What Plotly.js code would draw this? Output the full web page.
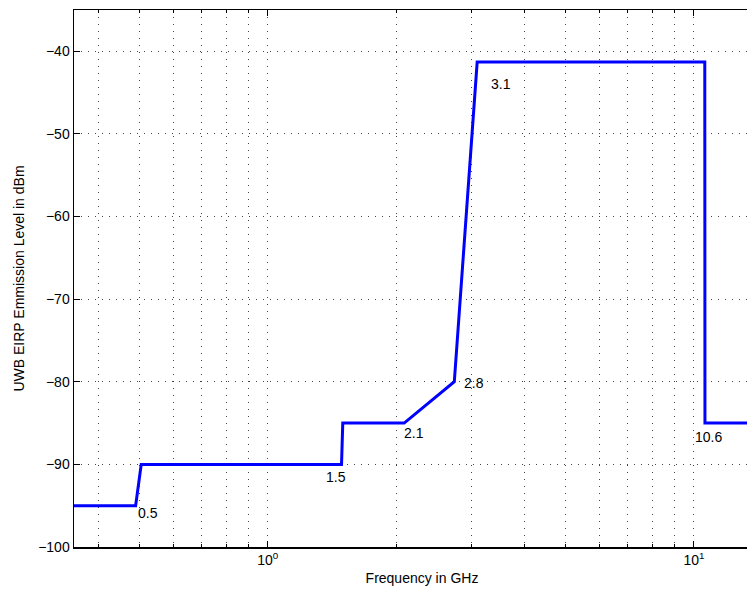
<!DOCTYPE html>
<html><head><meta charset="utf-8">
<script src="https://cdn.plot.ly/plotly-3.0.1.min.js"></script>
<style>html,body{margin:0;padding:0;overflow:hidden;background:#fff}#c{width:800px;height:592px}</style>
</head><body><div id="c"></div>
<script>
// Mask frequencies (GHz) and levels (dBm)
const freqGHz = [0.3, 0.49, 0.505, 1.49, 1.5, 2.09, 2.74, 3.1, 10.6, 10.61, 20];
const levelDbm = [-95, -95, -90, -90, -85, -85, -80, -41.3, -41.3, -85, -85];
// Text labels
const labelText = ["0.5", "1.5", "2.1", "2.8", "3.1", "10.6"];
const labelX = [0.49, 1.356, 2.062, 2.85, 3.31, 9.93];
const labelY = [-95.9, -91.5, -86.2, -80.2, -43.9, -86.7];
const xTickVals = [1, 10];
const xTickText = ["10<sup>0</sup>", "10<sup>1</sup>"];
const xMinorVals = [0.4,0.5,0.6,0.7,0.8,0.9,2,3,4,5,6,7,8,9,20];
const yTickVals = [-100,-90,-80,-70,-60,-50,-40];

const font = {family: "Liberation Sans, Arial, sans-serif", size: 14, color: "#000"};
const annotations = labelText.map((t, i) => ({
  x: Math.log10(labelX[i]), y: labelY[i], xref: "x", yref: "y", text: t,
  showarrow: false, xanchor: "left", yanchor: "middle", font: font
}));
const gridDash = "1px,6px";

Plotly.newPlot("c", [{
  x: freqGHz, y: levelDbm, type: "scatter", mode: "lines",
  line: {color: "#0000ff", width: 3}, hoverinfo: "skip"
}], {
  width: 800, height: 592,
  margin: {l: 74, r: 30, t: 10, b: 45},
  paper_bgcolor: "#fff", plot_bgcolor: "#fff",
  showlegend: false, font: font,
  annotations: annotations,
  xaxis: {
    type: "log", range: [-0.4544, 1.1783],
    tickmode: "array", tickvals: xTickVals, ticktext: xTickText,
    ticks: "inside", ticklen: 6, tickcolor: "#000", tickwidth: 1,
    showline: true, linecolor: "#000", linewidth: 1.5, mirror: "ticks",
    showgrid: true, gridcolor: "#444", griddash: gridDash, gridwidth: 1,
    minor: {tickmode: "array", tickvals: xMinorVals, ticks: "inside", ticklen: 3, tickcolor: "#000",
            showgrid: true, gridcolor: "#444", griddash: gridDash, gridwidth: 1},
    zeroline: false, tickfont: font,
    title: {text: "Frequency in GHz", font: font, standoff: 6}
  },
  yaxis: {
    range: [-100, -35],
    tickmode: "array", tickvals: yTickVals,
    ticks: "inside", ticklen: 6, tickcolor: "#000", tickwidth: 1,
    showline: true, linecolor: "#000", linewidth: 1.5, mirror: "ticks",
    showgrid: true, gridcolor: "#444", griddash: gridDash, gridwidth: 1,
    zeroline: false, tickfont: font,
    title: {text: "UWB EIRP Emmission Level in dBm", font: font, standoff: 10}
  }
}, {displayModeBar: false, staticPlot: true});
</script></body></html>
